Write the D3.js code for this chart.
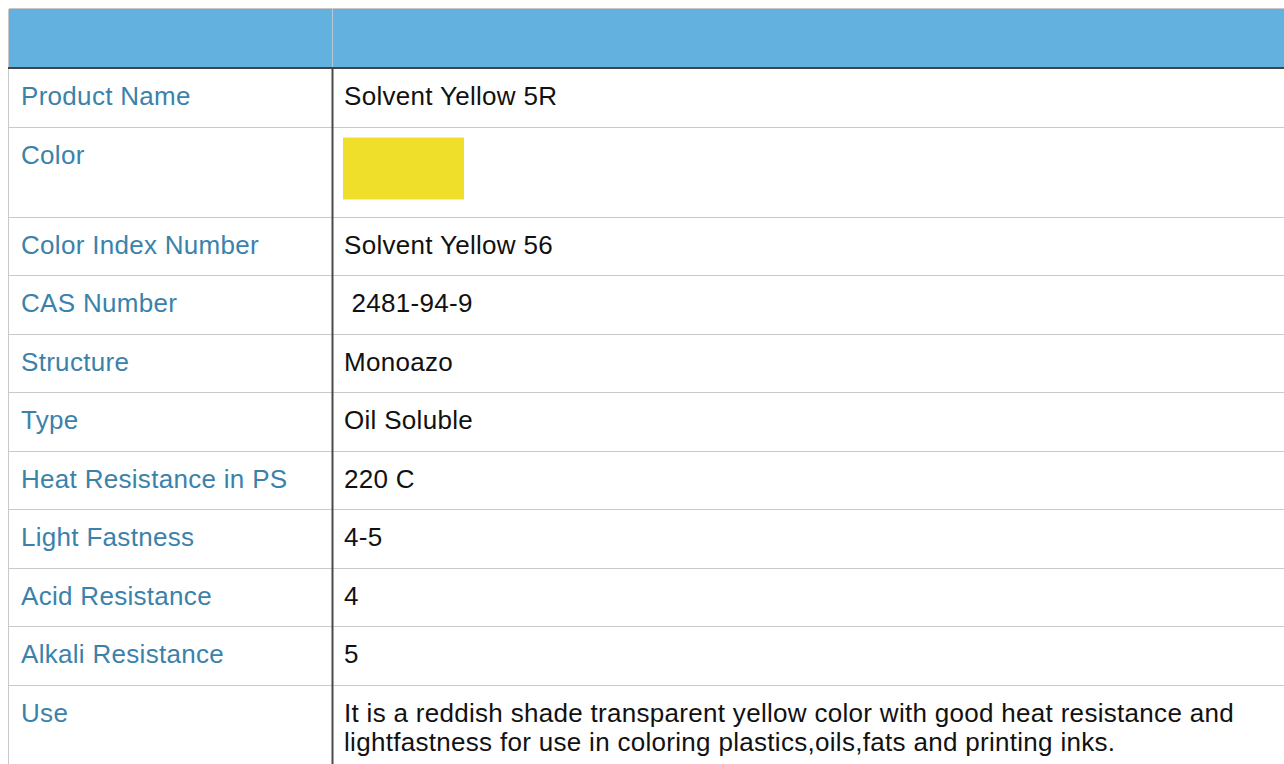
<body style="margin:0;background:#fff">
<script src="https://cdn.jsdelivr.net/npm/d3@7"></script>
<script>
  // table content
  var labels = ['Product Name', 'Color', 'Color Index Number', 'CAS Number', 'Structure', 'Type',
    'Heat Resistance in PS', 'Light Fastness', 'Acid Resistance', 'Alkali Resistance', 'Use'];
  var values = ['Solvent Yellow 5R', '', 'Solvent Yellow 56', '\u00a02481-94-9', 'Monoazo', 'Oil Soluble',
    '220 C', '4-5', '4', '5',
    ['It is a reddish shade transparent yellow color with good heat resistance and',
     'lightfastness for use in coloring plastics,oils,fats and printing inks.']];
  var swatchColor = '#f0df2a';

  var W = 1284, H = 764;
  var tblX = 9, tblY = 9, headH = 59, splitX = 333;
  var rowH = 58.5, colorRowH = 90;

  var svg = d3.select('body').append('svg')
    .attr('width', W).attr('height', H)
    .style('display', 'block');

  // row tops
  var rowTops = [];
  var y = tblY + headH;
  labels.forEach(function(l) {
    rowTops.push(y);
    y += (l === 'Color') ? colorRowH : rowH;
  });

  // header
  svg.append('rect').attr('x', tblX).attr('y', tblY)
    .attr('width', W - tblX).attr('height', headH).attr('fill', '#63b1df');
  svg.append('line').attr('x1', tblX).attr('x2', W).attr('y1', tblY - 0.5).attr('y2', tblY - 0.5)
    .attr('stroke', '#c8c8c8').attr('stroke-width', 1);
  svg.append('line').attr('x1', splitX - 0.5).attr('x2', splitX - 0.5).attr('y1', tblY).attr('y2', tblY + headH)
    .attr('stroke', '#b5c9d6').attr('stroke-width', 1);

  // row separators
  svg.append('g').selectAll('line')
    .data(rowTops.slice(1))
    .join('line')
      .attr('x1', tblX).attr('x2', W)
      .attr('y1', d => Math.round(d) + 0.5).attr('y2', d => Math.round(d) + 0.5)
      .attr('stroke', '#c9c9c9').attr('stroke-width', 1);

  // left border
  svg.append('line').attr('x1', tblX - 0.5).attr('x2', tblX - 0.5).attr('y1', tblY).attr('y2', H)
    .attr('stroke', '#c8c8c8').attr('stroke-width', 1);

  // dark lines
  svg.append('line').attr('x1', splitX - 0.5).attr('x2', splitX - 0.5).attr('y1', tblY + headH).attr('y2', H)
    .attr('stroke', '#4a4a4a').attr('stroke-width', 2);
  svg.append('line').attr('x1', tblX - 1).attr('x2', W).attr('y1', tblY + headH).attr('y2', tblY + headH)
    .attr('stroke', '#444').attr('stroke-width', 2);

  var font = 'Liberation Sans, Arial, Helvetica, sans-serif';

  // labels
  svg.append('g').selectAll('text')
    .data(labels)
    .join('text')
      .attr('x', 21)
      .attr('y', (d, i) => rowTops[i] + 37)
      .attr('fill', '#3b82ab')
      .style('font-family', font)
      .style('font-size', '26px')
      .style('letter-spacing', '0.3px')
      .text(d => d);

  // values
  var vg = svg.append('g').selectAll('text')
    .data(values)
    .join('text')
      .attr('x', 344)
      .attr('y', (d, i) => rowTops[i] + 37)
      .attr('fill', '#111')
      .style('font-family', font)
      .style('font-size', '26px')
      .style('letter-spacing', '0.3px');
  vg.each(function(d) {
    var t = d3.select(this);
    if (Array.isArray(d)) {
      d.forEach(function(line, k) {
        t.append('tspan').attr('x', 344).attr('dy', k === 0 ? 0 : 29).text(line);
      });
    } else {
      t.text(d);
    }
  });

  // colour swatch
  var ci = labels.indexOf('Color');
  svg.append('rect')
    .attr('x', 343).attr('y', rowTops[ci] + 11)
    .attr('width', 121).attr('height', 62)
    .attr('fill', swatchColor);
</script>
</body>
